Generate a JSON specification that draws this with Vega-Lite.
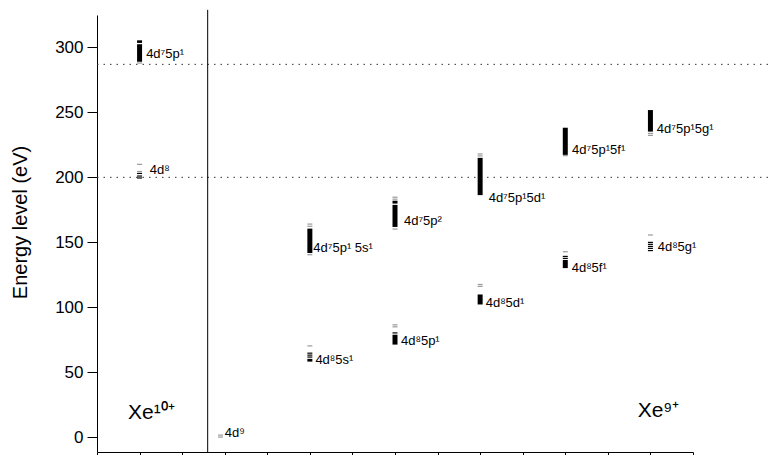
{
  "$schema": "https://vega.github.io/schema/vega-lite/v6.json",
  "width": 596,
  "height": 437,
  "autosize": {"type": "none"},
  "padding": {"left": 97, "top": 15, "right": 80, "bottom": 3},
  "background": "white",
  "config": {
    "view": {"stroke": null},
    "font": "Liberation Sans",
    "axis": {"domainColor": "#000", "tickColor": "#000", "labelColor": "#000", "titleColor": "#000", "grid": false, "labelFont": "Liberation Sans", "titleFont": "Liberation Sans"}
  },
  "datasets": {
    "refs": [{"e": 287}, {"e": 200}],
    "bands": [
      {"x": 1, "lo": 303.5, "hi": 305.5},
      {"x": 1, "lo": 289, "hi": 302.5},
      {"x": 5, "lo": 141.7, "hi": 160.5},
      {"x": 7, "lo": 179.8, "hi": 182},
      {"x": 7, "lo": 161.8, "hi": 178.8},
      {"x": 9, "lo": 186.3, "hi": 215},
      {"x": 11, "lo": 217.3, "hi": 238.2},
      {"x": 13, "lo": 235.2, "hi": 251.8},
      {"x": 5, "lo": 58.1, "hi": 60.2},
      {"x": 7, "lo": 71.2, "hi": 78.8},
      {"x": 9, "lo": 102.1, "hi": 109.8},
      {"x": 11, "lo": 130.1, "hi": 136.4}
    ],
    "levels": [
      {"x": 1, "e": 288, "kind": "faint"},
      {"x": 1, "e": 210, "kind": "faint"},
      {"x": 1, "e": 204.5, "kind": "faint"},
      {"x": 1, "e": 203, "kind": "main"},
      {"x": 1, "e": 201, "kind": "main"},
      {"x": 1, "e": 199.5, "kind": "main"},
      {"x": 2.9, "e": 0, "kind": "faint"},
      {"x": 2.9, "e": 1.5, "kind": "faint"},
      {"x": 5, "e": 164, "kind": "faint"},
      {"x": 5, "e": 162.3, "kind": "faint"},
      {"x": 5, "e": 140.4, "kind": "faint"},
      {"x": 5, "e": 70.2, "kind": "faint"},
      {"x": 5, "e": 64.6, "kind": "main"},
      {"x": 5, "e": 63.1, "kind": "main"},
      {"x": 5, "e": 61.6, "kind": "main"},
      {"x": 7, "e": 184.7, "kind": "faint"},
      {"x": 7, "e": 183.2, "kind": "faint"},
      {"x": 7, "e": 160.2, "kind": "faint"},
      {"x": 7, "e": 86.4, "kind": "faint"},
      {"x": 7, "e": 84.9, "kind": "faint"},
      {"x": 7, "e": 80.2, "kind": "main"},
      {"x": 9, "e": 218, "kind": "faint"},
      {"x": 9, "e": 216.5, "kind": "faint"},
      {"x": 9, "e": 117.5, "kind": "faint"},
      {"x": 9, "e": 116, "kind": "faint"},
      {"x": 11, "e": 216.7, "kind": "faint"},
      {"x": 11, "e": 142.7, "kind": "faint"},
      {"x": 11, "e": 139.1, "kind": "main"},
      {"x": 11, "e": 137.6, "kind": "main"},
      {"x": 13, "e": 233.8, "kind": "faint"},
      {"x": 13, "e": 232.3, "kind": "faint"},
      {"x": 13, "e": 155.6, "kind": "faint"},
      {"x": 13, "e": 149.9, "kind": "main"},
      {"x": 13, "e": 148.4, "kind": "main"},
      {"x": 13, "e": 146.8, "kind": "main"},
      {"x": 13, "e": 145.3, "kind": "main"},
      {"x": 13, "e": 143.6, "kind": "main"}
    ],
    "labels": [
      {"text": "4d⁷5p¹", "x": 1.154, "e": 294.7},
      {"text": "4d⁸", "x": 1.24, "e": 206},
      {"text": "4d⁹", "x": 3.0, "e": 3},
      {"text": "4d⁷5p¹ 5s¹", "x": 5.08, "e": 145.6},
      {"text": "4d⁷5p²", "x": 7.21, "e": 166.2},
      {"text": "4d⁷5p¹5d¹", "x": 9.2, "e": 184.2},
      {"text": "4d⁷5p¹5f¹", "x": 11.16, "e": 221},
      {"text": "4d⁷5p¹5g¹", "x": 13.15, "e": 236.9},
      {"text": "4d⁸5s¹", "x": 5.13, "e": 59.4},
      {"text": "4d⁸5p¹", "x": 7.14, "e": 74},
      {"text": "4d⁸5d¹", "x": 9.13, "e": 103.6},
      {"text": "4d⁸5f¹", "x": 11.15, "e": 130.4},
      {"text": "4d⁸5g¹", "x": 13.17, "e": 146}
    ],
    "ions": [
      {"text": "Xe¹⁰⁺", "x": 0.73, "e": 18.5},
      {"text": "Xe⁹⁺", "x": 12.7, "e": 20.2}
    ]
  },
  "layer": [
    {
      "data": {"name": "refs"},
      "mark": {"type": "rule", "color": "#333", "strokeWidth": 1, "strokeDash": [1.5, 5]},
      "encoding": {
        "x": {"datum": 0, "type": "quantitative", "scale": {"domain": [0, 14], "nice": false, "zero": false},
              "axis": {"title": null, "labels": false, "values": [0,1,2,3,4,5,6,7,8,9,10,11,12,13,14], "tickSize": 6, "domain": true}},
        "x2": {"datum": 16},
        "y": {"field": "e", "type": "quantitative",
              "scale": {"domain": [-11.5, 325], "nice": false, "zero": false},
              "axis": {"title": "Energy level (eV)", "values": [0,25,50,75,100,125,150,175,200,225,250,275,300,325],
                       "labelExpr": "datum.value % 50 === 0 ? datum.label : ''",
                       "tickSize": 10, "labelPadding": 4, "labelFontSize": 17, "titleFontSize": 20, "titleFontWeight": "normal",
                       "titleX": -77, "titleY": 207, "titleAngle": -90, "titleAlign": "center", "titleBaseline": "middle"}}
      }
    },
    {
      "data": {"values": [{"sep": 2.6}]},
      "mark": {"type": "rule", "color": "#000", "strokeWidth": 1},
      "encoding": {
        "x": {"field": "sep", "type": "quantitative"},
        "y": {"datum": -11.5},
        "y2": {"datum": 329}
      }
    },
    {
      "data": {"name": "bands"},
      "mark": {"type": "rule", "color": "#000", "strokeWidth": 5},
      "encoding": {
        "x": {"field": "x", "type": "quantitative"},
        "y": {"field": "lo", "type": "quantitative"},
        "y2": {"field": "hi"}
      }
    },
    {
      "data": {"name": "levels"},
      "mark": {"type": "tick", "orient": "horizontal", "size": 5, "thickness": 1.2, "opacity": 1},
      "encoding": {
        "x": {"field": "x", "type": "quantitative"},
        "y": {"field": "e", "type": "quantitative"},
        "color": {"field": "kind", "type": "nominal", "scale": {"domain": ["main", "faint"], "range": ["#000000", "#9a9a9a"]}, "legend": null}
      }
    },
    {
      "data": {"name": "labels"},
      "mark": {"type": "text", "align": "left", "baseline": "middle", "fontSize": 13, "color": "#000"},
      "encoding": {
        "x": {"field": "x", "type": "quantitative"},
        "y": {"field": "e", "type": "quantitative"},
        "text": {"field": "text"}
      }
    },
    {
      "data": {"name": "ions"},
      "mark": {"type": "text", "align": "left", "baseline": "middle", "fontSize": 21, "color": "#000"},
      "encoding": {
        "x": {"field": "x", "type": "quantitative"},
        "y": {"field": "e", "type": "quantitative"},
        "text": {"field": "text"}
      }
    }
  ]
}
